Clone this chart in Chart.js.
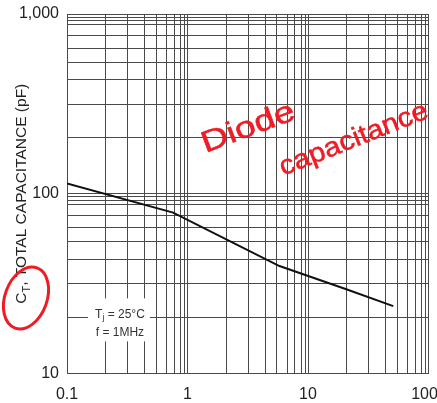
<!DOCTYPE html>
<html>
<head>
<meta charset="utf-8">
<script src="https://cdn.jsdelivr.net/npm/chart.js@4.4.1/dist/chart.umd.min.js"></script>
<style>
  html, body { margin: 0; padding: 0; background: #fff; }
  #wrap { width: 437px; height: 403px; position: relative; }
</style>
</head>
<body>
<div id="wrap"><canvas id="cap" width="437" height="403"></canvas></div>
<script>
// Total capacitance versus reverse voltage
const reverseVoltage = [0.1, 0.76, 5.8, 20.8, 51];
const capacitance    = [114, 78.5, 39.6, 29.4, 23.7];

// Axis decades and their printed labels
const xDecades      = [0.1, 1, 10, 100];
const xDecadeLabels = ['0.1', '1', '10', '100'];
const yDecades      = [10, 100, 1000];
const yDecadeLabels = ['10', '100', '1,000'];

// Ruled grid multiples inside each decade
const xGridSteps = [2.1, 3.2, 4.4, 5.5, 6.7, 7.8, 8.8, 9.5];
const yGridSteps = [2.05, 3.15, 4.3, 5.4, 6.45, 7.6, 8.7, 9.2, 9.6];

// Text
const yTitleMain = 'C';
const yTitleSub  = 'T';
const yTitleRest = ', TOTAL CAPACITANCE (pF)';
const noteLine1  = ['T', 'j', ' = 25\u00B0C'];
const noteLine2  = 'f = 1MHz';
const scribble1  = 'Diode';
const scribble2  = 'capacitance';

// Where the condition note and the handwriting sit (data units)
const noteAnchor      = { x: 0.275, y: 19 };
const scribble1Anchor = { x: 3.2, y: 232 };
const scribble2Anchor = { x: 24, y: 200 };

const FONT = '"Liberation Sans", Arial, Helvetica, sans-serif';
const GRID = '#4a4a4a';
const RED = '#ee1c25';

function gridValues(decades, steps) {
  const out = [];
  for (let i = 0; i < decades.length - 1; i++) {
    out.push(decades[i]);
    steps.forEach(s => out.push(decades[i] * s));
  }
  out.push(decades[decades.length - 1]);
  return out;
}
function decadeLabel(v, decades, labels) {
  for (let i = 0; i < decades.length; i++) {
    if (Math.abs(v - decades[i]) / decades[i] < 1e-6) return labels[i];
  }
  return '';
}

const xGrid = gridValues(xDecades, xGridSteps);
const yGrid = gridValues(yDecades, yGridSteps);

const overlay = {
  id: 'overlay',
  afterDraw(chart) {
    const ctx = chart.ctx;
    const ca = chart.chartArea;
    const xs = chart.scales.x, ys = chart.scales.y;

    // Rotated y-axis title with subscript T
    ctx.save();
    ctx.translate(20, (ca.top + ca.bottom) / 2);
    ctx.rotate(-Math.PI / 2);
    ctx.fillStyle = '#222';
    ctx.textBaseline = 'alphabetic';
    ctx.textAlign = 'left';
    const big = '15.5px ' + FONT, small = '11px ' + FONT;
    ctx.font = big;
    const wC = ctx.measureText(yTitleMain).width;
    const wRest = ctx.measureText(yTitleRest).width;
    ctx.font = small;
    const wT = ctx.measureText(yTitleSub).width;
    let px = -(wC + wT + wRest) / 2;
    ctx.font = big;
    ctx.fillText(yTitleMain, px, 6);
    px += wC;
    ctx.font = small;
    ctx.fillText(yTitleSub, px, 9.5);
    px += wT;
    ctx.font = big;
    ctx.fillText(yTitleRest, px, 6);
    ctx.restore();

    // Test condition note on a white patch over the grid
    const nx = xs.getPixelForValue(noteAnchor.x);
    const ny = ys.getPixelForValue(noteAnchor.y);
    ctx.save();
    ctx.fillStyle = '#fff';
    ctx.fillRect(nx - 32, ny - 25, 62, 43);
    ctx.fillStyle = '#333';
    ctx.textBaseline = 'middle';
    ctx.textAlign = 'left';
    const nf = '12px ' + FONT, ns = '8.5px ' + FONT;
    ctx.font = nf;
    const a = ctx.measureText(noteLine1[0]).width;
    const c = ctx.measureText(noteLine1[2]).width;
    ctx.font = ns;
    const b = ctx.measureText(noteLine1[1]).width;
    let tx = nx - (a + b + c) / 2;
    ctx.font = nf; ctx.fillText(noteLine1[0], tx, ny - 9); tx += a;
    ctx.font = ns; ctx.fillText(noteLine1[1], tx, ny - 6); tx += b;
    ctx.font = nf; ctx.fillText(noteLine1[2], tx, ny - 9);
    ctx.textAlign = 'center';
    ctx.fillText(noteLine2, nx, ny + 9);
    ctx.restore();

    // Red handwriting
    function scrawl(text, anchor, size, width, angle) {
      const sx = xs.getPixelForValue(anchor.x);
      const sy = ys.getPixelForValue(anchor.y);
      ctx.save();
      ctx.translate(sx, sy);
      ctx.rotate(angle);
      ctx.font = size + 'px ' + FONT;
      const w = ctx.measureText(text).width;
      ctx.scale(width / w, 1);
      ctx.textAlign = 'center';
      ctx.textBaseline = 'middle';
      ctx.fillStyle = RED;
      ctx.strokeStyle = RED;
      ctx.lineWidth = 0.5;
      ctx.lineJoin = 'round';
      ctx.fillText(text, 0, 0);
      ctx.strokeText(text, 0, 0);
      ctx.restore();
    }
    scrawl(scribble1, scribble1Anchor, 30, 98, -0.36);
    scrawl(scribble2, scribble2Anchor, 27, 158, -0.38);

    // Red loop around the symbol
    ctx.save();
    ctx.strokeStyle = RED;
    ctx.lineWidth = 3;
    ctx.beginPath();
    ctx.ellipse(26, 298, 21, 32, 0.35, 0, Math.PI * 2);
    ctx.stroke();
    ctx.restore();
  }
};

new Chart(document.getElementById('cap'), {
  type: 'line',
  data: {
    datasets: [{
      data: reverseVoltage.map((v, i) => ({ x: v, y: capacitance[i] })),
      borderColor: '#111',
      borderWidth: 2,
      pointRadius: 0,
      tension: 0,
      fill: false
    }]
  },
  options: {
    responsive: false,
    animation: false,
    devicePixelRatio: 1,
    layout: { padding: { left: 0, right: 8.5, top: 14, bottom: 0 } },
    plugins: { legend: { display: false }, tooltip: { enabled: false }, title: { display: false } },
    scales: {
      x: {
        type: 'logarithmic',
        min: 0.1, max: 100,
        afterBuildTicks: s => { s.ticks = xGrid.map(v => ({ value: v })); },
        afterFit: s => { s.height = 29.5; s.paddingLeft = 0; s.paddingRight = 0; },
        grid: { color: GRID, lineWidth: 1, drawTicks: false },
        border: { display: true, color: GRID, width: 1 },
        ticks: {
          autoSkip: false, maxRotation: 0, minRotation: 0, padding: 11,
          color: '#222', font: { family: FONT, size: 16 },
          callback: v => {
            const l = decadeLabel(v, xDecades, xDecadeLabels);
            return l === xDecadeLabels[xDecadeLabels.length - 1] ? l + '\u2002' : l;
          }
        }
      },
      y: {
        type: 'logarithmic',
        min: 10, max: 1000,
        afterBuildTicks: s => { s.ticks = yGrid.map(v => ({ value: v })); },
        afterFit: s => { s.width = 67; s.paddingTop = 0; s.paddingBottom = 0; },
        grid: { color: GRID, lineWidth: 1, drawTicks: false },
        border: { display: true, color: GRID, width: 1 },
        ticks: {
          autoSkip: false, padding: 8,
          color: '#222', font: { family: FONT, size: 16 },
          callback: v => decadeLabel(v, yDecades, yDecadeLabels)
        }
      }
    }
  },
  plugins: [overlay]
});
</script>
</body>
</html>
